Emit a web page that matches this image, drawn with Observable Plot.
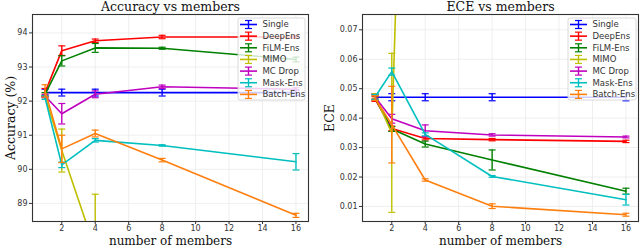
<!DOCTYPE html>
<html>
<head>
<meta charset="utf-8">
<script src="https://cdn.jsdelivr.net/npm/d3@7"></script>
<script src="https://cdn.jsdelivr.net/npm/@observablehq/plot@0.6"></script>
<style>
  body { margin: 0; background: #fff; }
  #wrap { display: flex; width: 640px; height: 246px; overflow: hidden; }
  #wrap svg { display: block; }
</style>
</head>
<body>
<div id="wrap"></div>
<script>
const xs = [1, 2, 4, 8, 16];
const methods = ["Single", "DeepEns", "FiLM-Ens", "MIMO", "MC Drop", "Mask-Ens", "Batch-Ens"];
const colors = ["#0000ff", "#ff0000", "#008000", "#bfbf00", "#bf00bf", "#00bfbf", "#ff7f0e"];

const accMean = [
  [92.25, 92.25, 92.25, 92.25, 92.25],
  [92.25, 93.48, 93.77, 93.88, 93.88],
  [92.20, 93.18, 93.56, 93.55, 93.22],
  [92.15, 90.55, 87.65, 84.00, 80.00],
  [92.15, 91.63, 92.20, 92.42, 92.35],
  [92.10, 90.13, 90.85, 90.70, 90.22],
  [92.30, 90.60, 91.05, 90.27, 88.65]
];
const accErr = [
  [0.10, 0.10, 0.10, 0.10, 0.08],
  [0.12, 0.14, 0.05, 0.05, 0.04],
  [0.05, 0.15, 0.13, 0.03, 0.07],
  [0.05, 0.63, 1.62, 1.00, 1.00],
  [0.05, 0.30, 0.10, 0.05, 0.04],
  [0.05, 0.08, 0.05, 0.02, 0.24],
  [0.18, 0.40, 0.10, 0.05, 0.06]
];
const eceMean = [
  [0.0471, 0.0471, 0.0471, 0.0471, 0.0471],
  [0.0465, 0.0365, 0.0331, 0.0327, 0.0321],
  [0.0470, 0.0363, 0.0312, 0.0258, 0.0152],
  [0.0475, 0.0350, 0.4000, 0.5000, 0.6000],
  [0.0472, 0.0398, 0.0357, 0.0343, 0.0336],
  [0.0472, 0.0558, 0.0345, 0.0202, 0.0123],
  [0.0468, 0.0378, 0.0190, 0.0101, 0.0072]
];
const eceErr = [
  [0.0012, 0.0012, 0.0012, 0.0012, 0.0012],
  [0.0008, 0.0008, 0.0005, 0.0004, 0.0004],
  [0.0008, 0.0008, 0.0010, 0.0034, 0.0010],
  [0.0008, 0.0270, 0.0100, 0.0100, 0.0100],
  [0.0008, 0.0015, 0.0020, 0.0004, 0.0003],
  [0.0008, 0.0012, 0.0005, 0.0003, 0.0018],
  [0.0008, 0.0130, 0.0004, 0.0008, 0.0005]
];
const xTicks = [2, 4, 6, 8, 10, 12, 14, 16];
const accTicks = [89, 90, 91, 92, 93, 94];
const eceTicks = [0.01, 0.02, 0.03, 0.04, 0.05, 0.06, 0.07];

const capSymbol = { draw(ctx) { const r = 3.5; ctx.moveTo(-r, 0); ctx.lineTo(r, 0); } };

function chart({mean, err, yDomain, yTicks, yFormat, title, ylabel, margins, ylabelDx, legend}) {
  const marks = [
    Plot.gridX(xTicks, {stroke: "#ebebeb", strokeOpacity: 1, strokeWidth: 0.8}),
    Plot.gridY(yTicks, {stroke: "#ebebeb", strokeOpacity: 1, strokeWidth: 0.8})
  ];
  methods.forEach((m, i) => {
    const rows = xs.map((x, j) => ({x, y: mean[i][j], e: err[i][j]}));
    const c = colors[i];
    marks.push(
      Plot.line(rows, {x: "x", y: "y", stroke: c, strokeWidth: 1.6, clip: true}),
      Plot.ruleX(rows, {x: "x", y1: d => d.y - d.e, y2: d => d.y + d.e, stroke: c, strokeWidth: 1.4, clip: true}),
      Plot.dot(rows, {x: "x", y: d => d.y + d.e, symbol: capSymbol, stroke: c, strokeWidth: 1.2, fill: "none", clip: true}),
      Plot.dot(rows, {x: "x", y: d => d.y - d.e, symbol: capSymbol, stroke: c, strokeWidth: 1.2, fill: "none", clip: true})
    );
  });
  marks.push(
    Plot.frame({stroke: "#333", strokeWidth: 1.1}),
    Plot.text([title], {frameAnchor: "top", dy: -3.5, lineAnchor: "bottom", fontFamily: "DejaVu Serif", fontSize: 12.5, fill: "#111"}),
    Plot.text(["number of members"], {frameAnchor: "bottom", dy: 23, lineAnchor: "bottom", fontFamily: "DejaVu Serif", fontSize: 12, fill: "#111"}),
    Plot.text([ylabel], {frameAnchor: "left", dx: ylabelDx, rotate: -90, lineAnchor: "middle", textAnchor: "middle", fontFamily: "DejaVu Serif", fontSize: 12.5, fill: "#111"}),
    Plot.axisX(xTicks, {tickSize: 3, tickPadding: 1, fontSize: 8, fill: "#333", stroke: "#333", label: null}),
    Plot.axisY(yTicks, {tickSize: 3, tickPadding: 2, fontSize: 8, fill: "#333", stroke: "#333", label: null, tickFormat: yFormat})
  );
  const svg = Plot.plot({
    width: 320, height: 246,
    marginLeft: margins[0], marginRight: margins[1], marginTop: margins[2], marginBottom: margins[3],
    x: {domain: [0.25, 16.75]},
    y: {domain: yDomain},
    style: {fontFamily: "DejaVu Sans", background: "#fff", overflow: "visible"},
    marks
  });
  // legend
  const g = d3.select(svg).append("g").attr("font-family", "DejaVu Sans").attr("font-size", 8.5).attr("text-anchor", "start");
  g.append("rect").attr("x", legend.x).attr("y", 18).attr("width", legend.w).attr("height", 82)
    .attr("rx", 2).attr("fill", "#fff").attr("fill-opacity", 0.8).attr("stroke", "#d0d0d0").attr("stroke-width", 0.8);
  methods.forEach((m, i) => {
    const y = 24.5 + i * 11.65;
    const hx = legend.x + 10.5;
    const c = colors[i];
    g.append("line").attr("x1", hx - 8.5).attr("x2", hx + 8.5).attr("y1", y).attr("y2", y).attr("stroke", c).attr("stroke-width", 1.6);
    g.append("line").attr("x1", hx).attr("x2", hx).attr("y1", y - 4).attr("y2", y + 4).attr("stroke", c).attr("stroke-width", 1.4);
    g.append("line").attr("x1", hx - 3.5).attr("x2", hx + 3.5).attr("y1", y - 4).attr("y2", y - 4).attr("stroke", c).attr("stroke-width", 1.2);
    g.append("line").attr("x1", hx - 3.5).attr("x2", hx + 3.5).attr("y1", y + 4).attr("y2", y + 4).attr("stroke", c).attr("stroke-width", 1.2);
    g.append("text").attr("x", legend.x + 24.5).attr("y", y).attr("dy", "0.35em").attr("text-anchor", "start").attr("fill", "#333").text(m);
  });
  return svg;
}

const wrap = document.getElementById("wrap");
wrap.append(chart({
  mean: accMean, err: accErr, yDomain: [88.47, 94.54], yTicks: accTicks, yFormat: d3.format("d"),
  title: "Accuracy vs members", ylabel: "Accuracy (%)", margins: [32, 12, 14, 25], ylabelDx: -22,
  legend: {x: 238, w: 67}
}));
wrap.append(chart({
  mean: eceMean, err: eceErr, yDomain: [0.0049, 0.0752], yTicks: eceTicks, yFormat: d3.format(".2f"),
  title: "ECE vs members", ylabel: "ECE", margins: [42, 2, 14, 25], ylabelDx: -33,
  legend: {x: 248, w: 68}
}));
</script>
</body>
</html>
